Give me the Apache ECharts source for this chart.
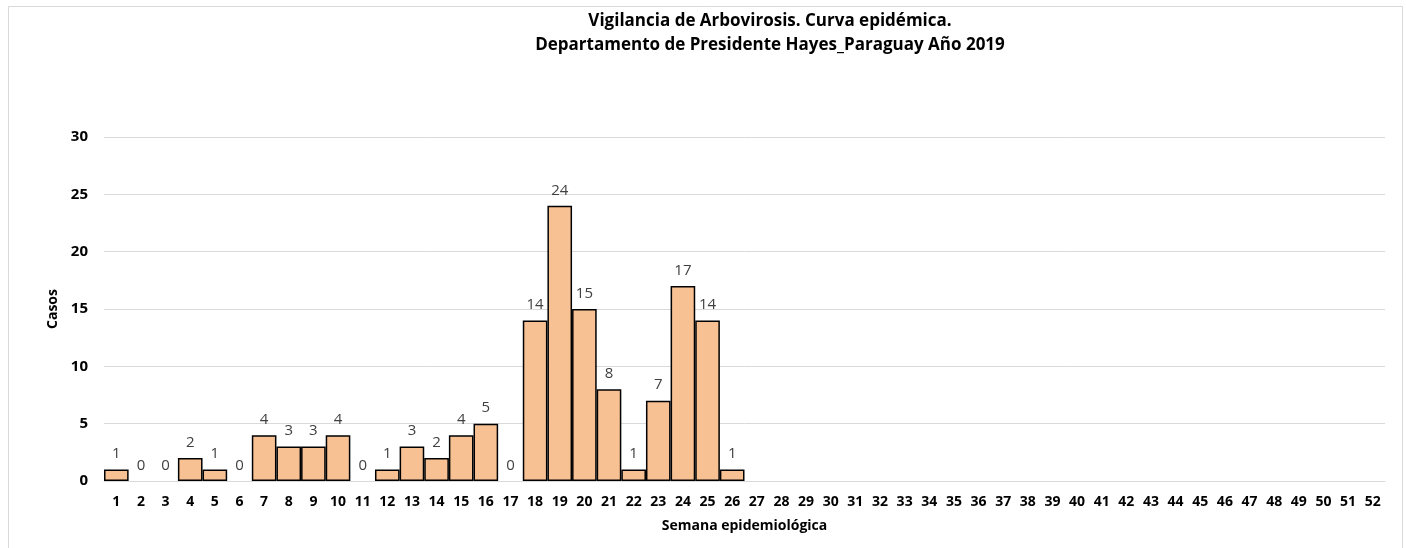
<!DOCTYPE html>
<html>
<head>
<meta charset="utf-8">
<script src="https://cdn.jsdelivr.net/npm/echarts@6/dist/echarts.min.js"></script>
<style>
	html, body { margin: 0; padding: 0; background: #fff; }
	#chart { width: 1406px; height: 548px; }
</style>
</head>
<body>
<div id="chart"></div>
<script>
// semanas epidemiologicas 1..52
let semanas = []
for (let i = 1; i <= 52; i++)
	semanas.push(String(i))

// casos por semana (solo hay datos hasta la semana 26)
let casos = [1, 0, 0, 2, 1, 0, 4, 3, 3, 4, 0, 1, 3, 2, 4, 5, 0, 14, 24, 15, 8, 1, 7, 17, 14, 1]

let yTicks = [0, 5, 10, 15, 20, 25, 30]

let titulo = "Vigilancia de Arbovirosis. Curva epidémica.\nDepartamento de Presidente Hayes_Paraguay Año 2019"

let fuente = "'Open Sans', 'Noto Sans', sans-serif"

// las barras en cero no llevan borde (solo la etiqueta "0")
let serie = semanas.map((s, i) => {
	if (i >= casos.length)
		return null
	if (casos[i] === 0)
		return {value: 0, itemStyle: {borderWidth: 0}}
	return casos[i]
})

let chart = echarts.init(document.getElementById("chart"))
let option = {
	animation: false,
	backgroundColor: "#fff",
	title: {
		text: titulo,
		left: 765,
		textAlign: "center",
		top: 4,
		textStyle: {
			fontFamily: fuente,
			fontSize: 17,
			fontWeight: "bold",
			color: "#000",
			lineHeight: 24
		}
	},
	graphic: [{
		type: "rect",
		shape: {x: 8.5, y: 6.5, width: 1394, height: 560},
		style: {fill: "none", stroke: "#d9d9d9", lineWidth: 1},
		silent: true
	}],
	grid: {
		left: 104,
		right: 21,
		top: 137,
		bottom: 67
	},
	xAxis: {
		type: "category",
		data: semanas,
		name: "Semana epidemiológica",
		nameLocation: "middle",
		nameGap: 38,
		nameTextStyle: {
			fontFamily: fuente,
			fontSize: 14,
			fontWeight: "bold",
			color: "#000"
		},
		axisTick: {show: false},
		axisLine: {lineStyle: {color: "#d9d9d9"}},
		axisLabel: {
			interval: 0,
			margin: 14,
			fontFamily: fuente,
			fontSize: 14,
			fontWeight: "bold",
			color: "#000"
		}
	},
	yAxis: {
		type: "value",
		min: yTicks[0],
		max: yTicks[yTicks.length - 1],
		interval: 5,
		name: "Casos",
		nameLocation: "middle",
		nameGap: 38,
		nameRotate: 90,
		nameTextStyle: {
			fontFamily: fuente,
			fontSize: 14,
			fontWeight: "bold",
			color: "#000"
		},
		axisLine: {show: false},
		axisTick: {show: false},
		splitLine: {lineStyle: {color: "#d9d9d9"}},
		axisLabel: {
			margin: 16,
			fontFamily: fuente,
			fontSize: 15,
			fontWeight: "bold",
			color: "#000"
		}
	},
	series: [{
		name: "Casos",
		type: "bar",
		data: serie,
		barCategoryGap: "0%",
		itemStyle: {
			color: "#f8c193",
			borderColor: "#000",
			borderWidth: 1.5
		},
		label: {
			show: true,
			position: "top",
			distance: 8,
			fontFamily: fuente,
			fontSize: 15,
			color: "#404040",
			formatter: p => p.value == null ? "" : p.value
		}
	}]
}
chart.setOption(option)
window.onresize = chart.resize
</script>
</body>
</html>
